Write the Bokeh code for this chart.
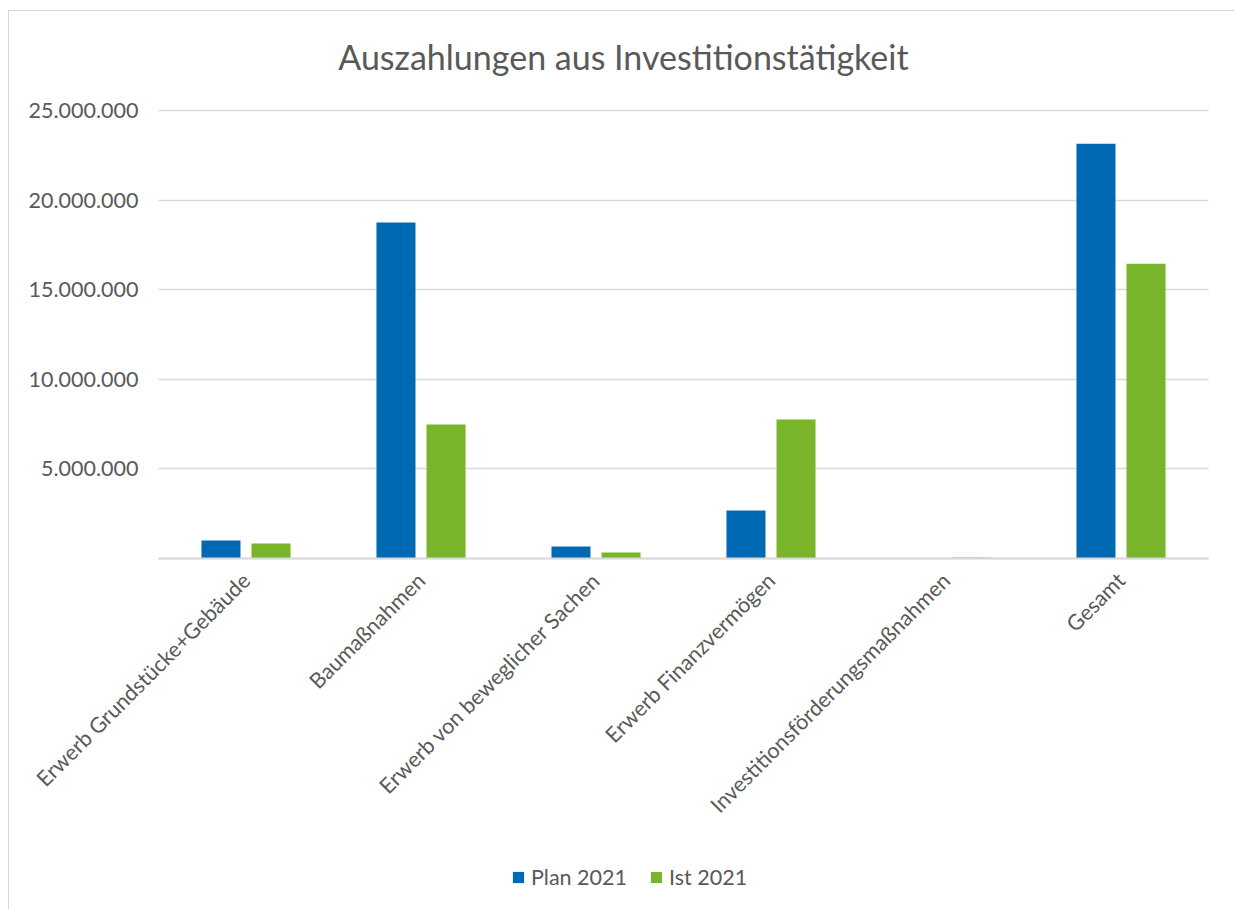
import math
from bokeh.plotting import figure
from bokeh.models import (Range1d, FixedTicker, Legend, LegendItem, Label, ColumnDataSource)
from bokeh.transform import dodge
from bokeh.embed import file_html
from bokeh.resources import INLINE

categories = ["Erwerb Grundstücke+Gebäude", "Baumaßnahmen", "Erwerb von beweglicher Sachen",
              "Erwerb Finanzvermögen", "Investitionsförderungsmaßnahmen", "Gesamt"]
plan_2021 = [1000000, 18750000, 670000, 2680000, 0, 23150000]
ist_2021 = [840000, 7480000, 330000, 7760000, 50000, 16450000]
series_names = ["Plan 2021", "Ist 2021"]
colors = ["#0069B4", "#78B52A"]
y_ticks = [0, 5000000, 10000000, 15000000, 20000000, 25000000]
title_text = "Auszahlungen aus Investitionstätigkeit"

FONT = "Lato"
TXT = "#595959"
GRID = "#D9D9D9"

# layout (canvas pixels)
W, H = 1226, 899
X0_PX, CAT_PX = 149, 175           # pixel column of the first category's left edge, width per category
ZERO_PX, TOP_PX = 547, 99          # pixel rows of value 0 and of the top tick
n = len(categories)
x_lo = -X0_PX / CAT_PX
x_hi = (W - X0_PX) / CAT_PX
y_max = y_ticks[-1]
per_px = y_max / (ZERO_PX - TOP_PX)
y_lo = -(H - ZERO_PX) * per_px
y_hi = y_max + TOP_PX * per_px

centers = [i + 0.5 for i in range(n)]
src = ColumnDataSource(dict(x=centers, plan=plan_2021, ist=ist_2021))

p = figure(x_range=Range1d(x_lo, x_hi), y_range=Range1d(y_lo, y_hi),
           width=W, height=H, output_backend="svg", toolbar_location=None,
           min_border_left=0, min_border_right=0, min_border_top=0, min_border_bottom=0)
p.styles = {"margin-left": "8px", "margin-top": "10px",
            "border-left": "1px solid #D9D9D9", "border-top": "1px solid #D9D9D9"}
p.outline_line_color = None
p.background_fill_color = "white"
p.border_fill_color = "white"

# horizontal gridlines limited to the category area
grid = p.ygrid[0]
if "cross_bounds" in type(grid).properties():
    grid.bounds = (0, y_max)
    grid.cross_bounds = (0, n)
    grid.grid_line_color = GRID
    grid.grid_line_width = 1.5
else:
    grid.grid_line_color = None
    gt = y_ticks[1:]
    p.segment(x0=[0] * len(gt), x1=[n] * len(gt), y0=gt, y1=gt,
              line_color=GRID, line_width=1.5)
p.xgrid.grid_line_color = None

r1 = p.vbar(x=dodge("x", -0.143), top="plan", width=0.223, source=src,
            fill_color=colors[0], line_color=None)
r2 = p.vbar(x=dodge("x", 0.143), top="ist", width=0.223, source=src,
            fill_color=colors[1], line_color=None)

# y axis, placed at the left edge of the first category
p.yaxis.fixed_location = 0
p.yaxis.ticker = FixedTicker(ticks=y_ticks)
p.yaxis.major_label_overrides = {t: ("" if t == 0 else f"{t:,}".replace(",", ".")) for t in y_ticks}
p.yaxis.axis_line_color = None
p.yaxis.major_tick_line_color = None
p.yaxis.minor_tick_line_color = None
p.yaxis.major_label_text_font = FONT
p.yaxis.major_label_text_font_size = "21.5px"
p.yaxis.major_label_text_color = TXT
p.yaxis.major_label_standoff = 14
p.yaxis.bounds = (0, y_max)

# x axis placed at value 0
p.xaxis.fixed_location = 0
p.xaxis.ticker = FixedTicker(ticks=centers)
p.xaxis.major_label_overrides = {c: name for c, name in zip(centers, categories)}
p.xaxis.bounds = (0, n)
p.xaxis.axis_line_color = GRID
p.xaxis.axis_line_width = 2
p.xaxis.major_tick_line_color = None
p.xaxis.minor_tick_line_color = None
p.xaxis.major_label_orientation = math.pi / 4
p.xaxis.major_label_text_font = FONT
p.xaxis.major_label_text_font_size = "21.5px"
p.xaxis.major_label_text_color = TXT
p.xaxis.major_label_standoff = 12

title = Label(x=614, y=H - 45, x_units="screen", y_units="screen", text=title_text,
              text_align="center", text_baseline="alphabetic", text_font=FONT,
              text_font_size="34px", text_color=TXT)
p.add_layout(title)

legend = Legend(items=[LegendItem(label=series_names[0], renderers=[r1]),
                       LegendItem(label=series_names[1], renderers=[r2])],
                orientation="horizontal", location=(502, 20),
                glyph_width=14, glyph_height=14, label_standoff=6, spacing=22,
                padding=0, margin=0, border_line_color=None, background_fill_alpha=0,
                label_text_font=FONT, label_text_font_size="21.5px", label_text_color=TXT)
p.add_layout(legend, "center")

open("out.html", "w").write(file_html(p, INLINE))
